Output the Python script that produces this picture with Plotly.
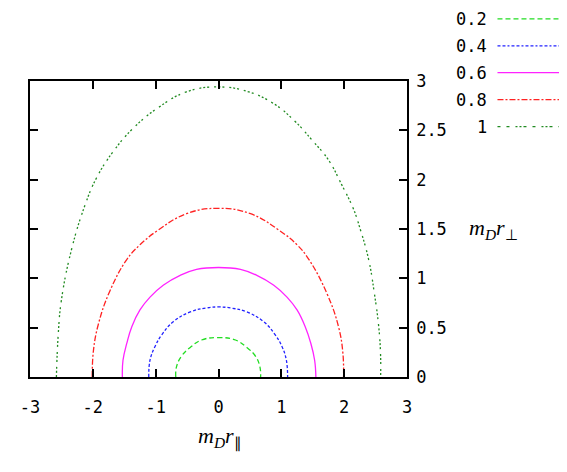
import plotly.graph_objects as go

# ---- data (contour levels) ----
levels = ["0.2", "0.4", "0.6", "0.8", "1"]

x_02 = [-0.68, -0.67, -0.59, -0.45, -0.27, 0.0, 0.27, 0.45, 0.59, 0.66, 0.67]
y_02 = [0.0, 0.10, 0.21, 0.30, 0.375, 0.40, 0.375, 0.30, 0.21, 0.10, 0.0]

x_04 = [-1.11, -1.09, -1.01, -0.90, -0.72, -0.45, -0.19, 0.0, 0.19, 0.45, 0.72, 0.90, 1.01, 1.08, 1.10]
y_04 = [0.0, 0.17, 0.31, 0.43, 0.56, 0.66, 0.70, 0.71, 0.70, 0.66, 0.56, 0.43, 0.31, 0.17, 0.0]

x_06 = [-1.53, -1.52, -1.46, -1.38, -1.25, -1.09, -0.88, -0.61, -0.35, 0.0,
        0.35, 0.61, 0.88, 1.09, 1.25, 1.38, 1.47, 1.53, 1.55]
y_06 = [0.0, 0.17, 0.34, 0.51, 0.68, 0.81, 0.93, 1.03, 1.09, 1.11,
        1.09, 1.03, 0.93, 0.81, 0.68, 0.51, 0.34, 0.17, 0.0]

x_08 = [-2.01, -1.99, -1.91, -1.73, -1.46, -1.25, -0.98, -0.51, 0.0,
        0.51, 0.98, 1.25, 1.44, 1.73, 1.91, 1.98, 1.99]
y_08 = [0.0, 0.27, 0.54, 0.87, 1.19, 1.34, 1.48, 1.655, 1.71,
        1.655, 1.48, 1.34, 1.19, 0.84, 0.51, 0.24, 0.0]

x_10 = [-2.58, -2.55, -2.50, -2.34, -2.12, -1.94, -1.67, -1.36, -0.96, -0.51, 0.0,
        0.48, 0.88, 1.22, 1.49, 1.75, 1.96, 2.15, 2.25, 2.39, 2.48, 2.55, 2.58, 2.58]
y_10 = [0.0, 0.44, 0.78, 1.29, 1.75, 2.02, 2.29, 2.52, 2.73, 2.89, 2.94,
        2.89, 2.77, 2.59, 2.40, 2.20, 1.95, 1.70, 1.51, 1.19, 0.85, 0.51, 0.21, 0.0]

x_ticks = [-3, -2, -1, 0, 1, 2, 3]
y_ticks = [0, 0.5, 1, 1.5, 2, 2.5, 3]
y_tick_text = ["0", "0.5", "1", "1.5", "2", "2.5", "3"]

# ---- styles ----
series = [
    (x_02, y_02, "#22dd22", "5px,3px"),
    (x_04, y_04, "#2222ff", "3px,2px"),
    (x_06, y_06, "#ff22ff", "solid"),
    (x_08, y_08, "#ff2222", "6px,2px,2px,2px"),
    (x_10, y_10, "#228b22", "2px,2px,2px,2px,2px,5px"),
]
legend_dash = ["5px,3px", "3px,2px,3px,2px,2px,2px", "solid",
               "6px,2px,2px,2px", "3px,6px,3px,6px,2px,2px,2px,2px"]

fig = go.Figure()
for (xs, ys, col, dash), lab in zip(series, levels):
    fig.add_trace(go.Scatter(x=xs, y=ys, mode="lines", name=lab,
                             line=dict(color=col, width=1.3, dash=dash,
                                       shape="spline", smoothing=1.2),
                             showlegend=False))

tick_font = dict(family="DejaVu Sans Mono", size=17, color="black")

fig.update_layout(
    width=567, height=472,
    margin=dict(l=22, r=168, t=73, b=103),
    paper_bgcolor="white", plot_bgcolor="white",
    xaxis=dict(range=[-3, 3], tickvals=x_ticks, ticktext=[str(v) for v in x_ticks],
               ticks="inside", ticklen=8, tickwidth=1.5, tickcolor="black",
               showline=True, linecolor="black", linewidth=1.5, mirror="ticks",
               showgrid=False, zeroline=False, tickfont=tick_font,
               ticklabelstandoff=14, automargin=False),
    yaxis=dict(range=[0, 3], tickvals=y_ticks, ticktext=y_tick_text, side="right",
               ticks="inside", ticklen=8, tickwidth=1.5, tickcolor="black",
               showline=True, linecolor="black", linewidth=1.5, mirror="ticks",
               showgrid=False, zeroline=False, tickfont=tick_font,
               ticklabelstandoff=4, automargin=False),
)

# axis labels
label_font = dict(family="Liberation Serif", size=22, color="black")
fig.add_annotation(text="<i>m</i><sub><i>D</i></sub><i>r</i><sub>∥</sub>",
                   xref="paper", yref="paper", x=0.505, y=-0.26,
                   showarrow=False, font=label_font)
fig.add_annotation(text="<i>m</i><sub><i>D</i></sub><i>r</i><sub>⊥</sub>",
                   xref="paper", yref="paper", x=1.30, y=0.50,
                   showarrow=False, font=label_font)

# key (text to the left of the line sample, like the original)
top_y = 1.21
row_step = 0.091
for i, ((_, _, col, _), lab) in enumerate(zip(series, levels)):
    yy = top_y - i * row_step
    fig.add_annotation(text=lab, xref="paper", yref="paper", x=1.217, y=yy,
                       xanchor="right", yanchor="middle", showarrow=False,
                       font=tick_font)
    fig.add_shape(type="line", xref="paper", yref="paper",
                  x0=1.24, x1=1.43, y0=yy, y1=yy,
                  line=dict(color=col, width=1.3, dash=legend_dash[i]))

fig.write_html("out.html")
